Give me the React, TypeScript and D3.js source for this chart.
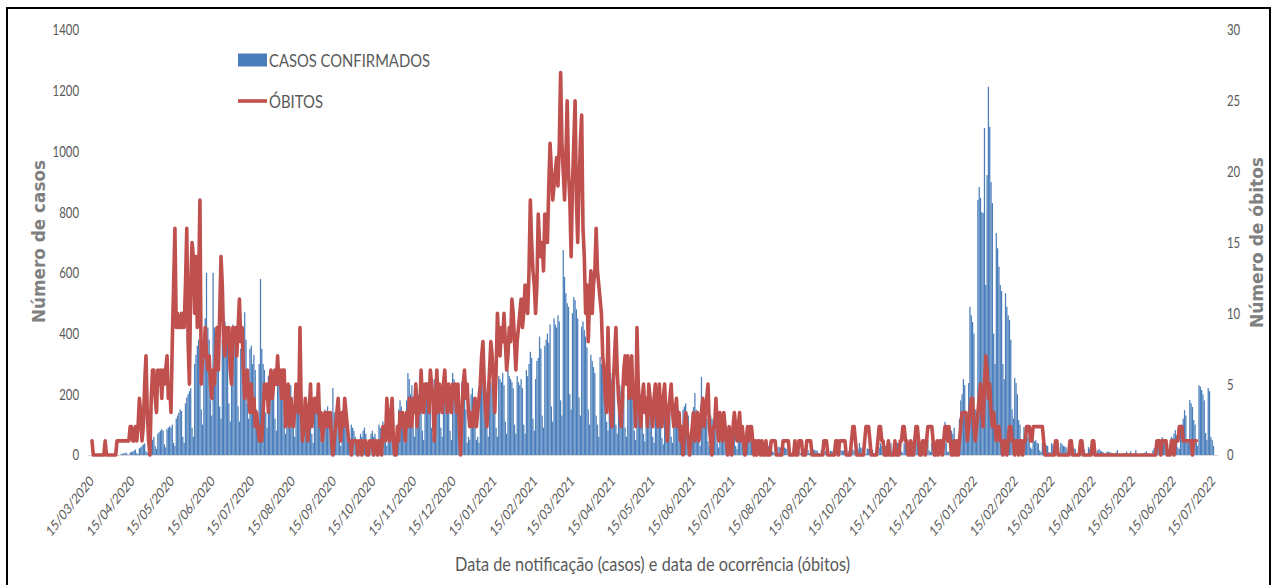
import React from "react";
import * as d3 from "d3";

// ---------- DATA (daily, starting 15/03/2020) ----------
const START_DATE = "2020-03-15";

// Casos confirmados: 15/03/2020 – 31/12/2020
const casos2020 = [
  // Mar (15-31)
  0,0,0,0,0,0,0,0,0,0,0,1,0,0,2,0,0,
  // Apr
  0,1,2,0,0,3,4,5,6,8,2,1,8,10,12,15,18,6,4,22,25,30,35,38,12,8,40,42,45,50,
  // May
  60,30,20,70,75,80,85,80,35,25,85,90,95,90,100,40,30,120,130,140,150,145,60,40,170,190,200,210,220,90,60,
  // Jun
  300,330,360,380,350,150,100,400,450,600,420,380,180,130,600,420,380,400,350,160,120,380,460,440,400,380,170,110,400,430,
  // Jul
  380,400,360,160,110,350,400,420,470,380,170,120,350,360,300,330,280,150,100,300,580,350,300,280,140,90,260,280,250,270,240,
  // Aug
  120,80,250,270,240,220,260,110,70,230,220,200,230,190,90,60,200,180,170,190,160,80,50,170,160,150,180,140,70,40,150,
  // Sep
  160,150,170,140,60,40,130,150,140,160,130,50,30,220,140,120,130,110,50,30,120,110,100,120,90,40,25,100,90,80,
  // Oct
  60,50,20,15,70,60,80,90,70,25,15,40,70,80,60,70,25,20,100,90,80,110,100,40,30,140,120,150,130,140,60,
  // Nov
  50,100,150,180,160,140,60,40,180,270,250,200,230,90,60,240,220,200,230,190,80,50,220,240,180,210,200,90,60,250,
  // Dec
  230,250,220,200,90,60,240,260,230,210,200,80,50,270,250,220,230,200,90,60,240,220,200,150,40,60,50,200,220,190,120,
];

// Casos confirmados: 2021
const casos2021 = [
  // Jan
  50,60,40,200,230,250,220,240,100,60,250,240,220,230,210,90,60,260,250,240,270,230,110,70,280,260,250,240,220,100,70,
  // Feb
  260,240,230,250,220,100,70,280,260,300,340,320,120,80,250,310,320,390,350,130,90,360,380,400,370,430,160,110,
  // Mar
  450,430,420,460,440,180,130,675,587,533,500,488,200,150,467,520,510,480,450,190,130,423,440,412,390,355,150,100,330,310,290,
  // Apr
  270,130,100,60,323,300,290,302,280,110,80,290,270,250,260,240,100,70,225,230,210,220,200,90,60,204,200,190,195,180,
  // May
  80,50,191,180,170,175,160,70,45,160,150,158,140,150,60,40,150,140,160,150,130,55,35,214,180,160,150,140,60,40,171,
  // Jun
  170,160,150,140,60,40,150,160,170,140,130,50,35,140,158,204,150,130,50,30,257,150,140,130,120,45,30,130,120,115,
  // Jul
  115,100,40,25,110,100,95,90,85,35,20,90,82,80,75,70,30,20,75,72,70,65,60,25,15,60,55,50,55,45,20,
  // Aug
  12,45,40,39,42,35,15,10,38,35,30,32,28,12,8,30,28,25,27,24,10,6,25,22,20,22,20,8,5,20,18,
  // Sep
  20,18,17,6,4,18,20,22,19,16,7,4,20,18,16,15,14,6,3,16,15,14,13,12,5,3,14,13,12,11,
  // Oct
  12,5,3,15,16,14,15,13,5,3,14,26,20,18,15,6,4,20,39,25,22,20,7,5,22,20,18,19,17,6,4,
  // Nov
  20,15,25,39,30,10,6,30,35,32,28,39,12,8,30,35,40,38,35,12,8,40,72,45,40,38,15,10,45,92,
  // Dec
  50,45,40,15,10,45,40,42,38,49,15,10,40,45,42,38,40,14,10,45,50,59,109,40,10,12,60,80,70,90,50,
];

// Casos confirmados: 01/01/2022 – 15/07/2022
const casos2022 = [
  // Jan
  30,25,120,180,200,250,230,80,60,237,488,460,438,400,150,120,840,883,847,800,797,1077,560,922,1213,1081,899,830,400,300,731,
  // Feb
  681,620,560,540,300,250,533,488,460,445,380,150,120,254,237,200,115,100,50,40,92,80,70,60,55,25,20,50,
  // Mar
  45,49,40,38,15,10,40,35,38,32,30,10,8,39,35,30,49,30,10,6,40,35,30,28,25,8,5,30,28,25,22,
  // Apr
  20,6,4,22,30,25,20,18,5,3,26,20,18,15,6,3,2,15,20,14,12,10,3,2,10,12,9,8,7,2,
  // May
  1,8,16,5,4,3,1,0,6,11,3,4,12,1,0,5,16,3,2,3,1,0,4,8,12,5,3,1,0,16,23,
  // Jun
  39,35,40,20,15,59,50,45,48,40,15,10,60,55,70,82,65,25,20,92,100,120,148,130,50,40,181,170,158,115,
  // Jul (1-15)
  100,40,30,230,225,214,200,180,72,50,220,210,59,49,30,
];

// Óbitos: 15/03/2020 – 31/12/2020
const obitos2020 = [
  // Mar (15-31)
  1,0,0,0,0,0,0,0,0,0,1,0,0,0,0,0,0,
  // Apr
  0,0,1,1,1,1,1,1,1,1,1,1,2,2,1,1,2,1,2,4,3,1,2,5,7,3,1,0,4,6,
  // May
  6,4,3,6,5,6,4,6,5,6,7,4,5,3,8,12,16,9,10,9,9,10,9,9,12,16,8,5,12,15,14,
  // Jun
  10,14,9,12,18,5,7,7,9,7,6,7,5,4,6,5,7,9,6,10,14,12,8,7,9,8,9,6,5,9,
  // Jul
  8,9,7,9,11,8,9,6,4,5,6,4,3,5,3,4,2,3,2,1,2,1,3,5,4,5,3,5,6,4,5,
  // Aug
  6,5,7,5,6,4,6,6,2,3,5,2,4,3,2,3,5,4,3,9,3,1,2,4,3,1,3,5,2,3,4,
  // Sep
  4,3,5,2,3,1,2,3,2,3,2,3,1,0,1,2,3,4,2,1,3,2,4,3,2,1,1,0,1,1,
  // Oct
  1,1,0,1,1,0,1,1,1,0,0,1,1,1,0,1,1,0,1,1,0,2,1,1,4,2,1,3,4,1,0,
  // Nov
  0,2,1,3,2,3,2,1,3,2,4,3,2,4,3,5,2,4,3,6,4,3,5,4,5,3,6,5,4,1,
  // Dec
  4,6,3,5,4,3,5,6,4,3,5,4,3,5,4,5,3,5,2,0,3,5,6,4,5,3,2,3,2,3,4,
];

// Óbitos: 2021
const obitos2021 = [
  // Jan
  2,3,4,5,7,8,5,3,2,4,6,8,7,5,3,6,10,8,7,9,8,10,8,6,7,9,8,11,10,8,6,
  // Feb
  8,9,10,11,9,10,12,11,10,13,18,15,13,12,10,12,17,15,14,15,13,17,16,15,19,22,20,18,
  // Mar
  19,20,21,19,22,27,22,20,18,21,25,20,18,14,19,22,25,18,15,19,22,24,16,14,10,12,8,11,13,10,12,
  // Apr
  13,16,13,12,11,10,7,6,4,3,9,5,3,2,5,7,9,6,4,3,2,4,6,7,5,7,4,5,7,4,
  // May
  4,2,9,5,3,2,4,5,3,4,2,5,4,3,2,4,5,3,2,5,3,2,4,5,3,1,3,4,5,3,2,
  // Jun
  3,4,2,3,1,2,0,2,3,2,1,0,1,2,3,1,2,3,1,2,3,4,2,3,4,5,2,1,0,2,
  // Jul
  2,4,2,1,3,2,1,3,2,1,0,2,1,0,2,3,2,1,2,3,1,2,1,0,1,2,1,2,2,1,0,
  // Aug
  1,0,1,1,0,1,0,0,1,0,0,0,1,1,1,1,0,0,0,0,0,1,1,1,1,1,0,0,0,0,1,
  // Sep
  0,0,1,1,1,0,0,0,1,1,1,1,0,0,0,0,0,0,0,0,0,1,1,1,0,0,0,0,0,0,
  // Oct
  1,1,0,1,1,1,1,1,0,0,0,0,1,2,2,1,0,0,0,0,0,0,1,2,2,2,1,0,0,0,0,
  // Nov
  0,1,2,2,1,1,0,0,0,1,0,0,0,0,1,0,0,0,1,1,2,2,1,1,0,0,1,0,0,1,
  // Dec
  2,2,1,0,0,1,1,0,1,2,2,2,2,1,0,0,1,0,1,1,0,1,2,2,1,2,1,0,0,1,0,
];

// Óbitos: 01/01/2022 – 02/07/2022
const obitos2022 = [
  // Jan
  1,0,1,2,3,3,3,3,1,2,3,4,4,2,1,2,3,4,5,3,2,5,7,6,4,5,3,2,3,2,1,
  // Feb
  2,2,1,1,0,1,1,0,1,2,2,1,1,0,1,1,0,1,1,0,1,1,2,2,2,1,1,2,
  // Mar
  2,2,2,2,2,2,2,1,0,0,0,0,0,0,0,0,1,1,0,0,0,0,0,0,0,0,0,1,1,0,0,
  // Apr
  0,0,0,0,1,1,0,0,0,0,0,0,0,1,1,0,0,0,0,0,0,0,0,0,0,0,0,0,0,0,
  // May
  0,0,0,0,0,0,0,0,0,0,0,0,0,0,0,0,0,0,0,0,0,0,0,0,0,0,0,0,0,0,0,
  // Jun
  0,1,1,1,0,1,1,1,1,0,0,0,1,1,0,1,1,1,2,2,2,1,1,1,1,1,1,1,0,1,
  // Jul (1-2)
  1,1,
];

const X_TICKS = [
  "15/03/2020","15/04/2020","15/05/2020","15/06/2020","15/07/2020","15/08/2020",
  "15/09/2020","15/10/2020","15/11/2020","15/12/2020","15/01/2021","15/02/2021",
  "15/03/2021","15/04/2021","15/05/2021","15/06/2021","15/07/2021","15/08/2021",
  "15/09/2021","15/10/2021","15/11/2021","15/12/2021","15/01/2022","15/02/2022",
  "15/03/2022","15/04/2022","15/05/2022","15/06/2022","15/07/2022",
];
const LEFT_TICKS = [0, 200, 400, 600, 800, 1000, 1200, 1400];
const RIGHT_TICKS = [0, 5, 10, 15, 20, 25, 30];

const SERIES_CASOS = "CASOS CONFIRMADOS";
const SERIES_OBITOS = "ÓBITOS";
const TITLE_X = "Data de notificação (casos) e data de ocorrência (óbitos)";
const TITLE_YL = "Número de casos";
const TITLE_YR = "Número de óbitos";

// ---------- CHART ----------
const W = 1276;
const H = 585;
const FONT = "Lato, 'Open Sans', 'DejaVu Sans', sans-serif";
const BLUE = "#4a7ebb";
const RED = "#c0504d";
const TICK_COLOR = "#595959";

type Pt = { date: Date; v: number };

export default function App() {
  const start = d3.utcParse("%Y-%m-%d")(START_DATE)!;
  const toSeries = (vals: number[]): Pt[] =>
    vals.map((v, i) => ({ date: d3.utcDay.offset(start, i), v }));
  const casos = toSeries([...casos2020, ...casos2021, ...casos2022]);
  const obitos = toSeries([...obitos2020, ...obitos2021, ...obitos2022]);

  const parseLbl = d3.utcParse("%d/%m/%Y");
  const tickDates = X_TICKS.map((t) => parseLbl(t)!);

  const x = d3
    .scaleUtc()
    .domain([tickDates[0], tickDates[tickDates.length - 1]])
    .range([92, 1213.5]);
  const yL = d3.scaleLinear().domain([0, 1400]).range([455, 30]);
  const yR = d3.scaleLinear().domain([0, 30]).range([455, 30]);

  const barW = 1.25;
  const line = d3
    .line<Pt>()
    .x((d) => x(d.date))
    .y((d) => yR(d.v));

  return (
    <svg
      width={W}
      height={H}
      viewBox={`0 0 ${W} ${H}`}
      style={{ position: "absolute", left: 0, top: 0, background: "#fff", display: "block" }}
    >
      <rect x={0} y={0} width={W} height={H} fill="#fff" />
      {/* outer frame */}
      <rect x={7} y={8} width={1263} height={620} fill="none" stroke="#000" strokeWidth={2} />

      {/* baseline */}
      <line x1={88} x2={1218} y1={455.5} y2={455.5} stroke="#d9d9d9" strokeWidth={1} />

      {/* bars */}
      <g fill={BLUE}>
        {casos.map((d, i) =>
          d.v > 0 ? (
            <rect
              key={i}
              x={x(d.date) - barW / 2}
              y={yL(d.v)}
              width={barW}
              height={yL(0) - yL(d.v)}
            />
          ) : null
        )}
      </g>

      {/* deaths line */}
      <path
        d={line(obitos) || ""}
        fill="none"
        stroke={RED}
        strokeWidth={3.6}
        strokeLinejoin="round"
        strokeLinecap="round"
      />

      {/* left & right ticks */}
      <g fontFamily={FONT} fontSize={15} fill={TICK_COLOR}>
        {LEFT_TICKS.map((t) => (
          <text
            key={t}
            x={79}
            y={yL(t)}
            dy="0.36em"
            textAnchor="end"
            textLength={6.6 * String(t).length}
            lengthAdjust="spacingAndGlyphs"
          >
            {t}
          </text>
        ))}
        {RIGHT_TICKS.map((t) => (
          <text
            key={"r" + t}
            x={1227}
            y={yR(t)}
            dy="0.36em"
            textAnchor="start"
            textLength={6.6 * String(t).length}
            lengthAdjust="spacingAndGlyphs"
          >
            {t}
          </text>
        ))}
      </g>

      {/* x tick labels */}
      <g fontFamily={FONT} fontSize={14.5} fill={TICK_COLOR}>
        {tickDates.map((d, i) => (
          <text
            key={i}
            transform={`translate(${x(d) + 2.5},482) scale(0.79,1) rotate(-45)`}
            textAnchor="end"
            textLength={78}
            lengthAdjust="spacingAndGlyphs"
          >
            {X_TICKS[i]}
          </text>
        ))}
      </g>

      {/* axis titles */}
      <text
        x={455}
        y={571}
        fontFamily={FONT}
        fontSize={19}
        fill={TICK_COLOR}
        textLength={395}
        lengthAdjust="spacingAndGlyphs"
      >
        {TITLE_X}
      </text>
      <text
        transform={`translate(45,241.5) rotate(-90)`}
        textAnchor="middle"
        fontFamily="'DejaVu Sans', sans-serif"
        fontWeight="bold"
        fontSize={17}
        fill="#808080"
        textLength={163}
        lengthAdjust="spacingAndGlyphs"
      >
        {TITLE_YL}
      </text>
      <text
        transform={`translate(1263,242.5) rotate(-90)`}
        textAnchor="middle"
        fontFamily="'DejaVu Sans', sans-serif"
        fontWeight="bold"
        fontSize={17}
        fill="#808080"
        textLength={171}
        lengthAdjust="spacingAndGlyphs"
      >
        {TITLE_YR}
      </text>

      {/* legend */}
      <rect x={238} y={53.5} width={29} height={13} fill={BLUE} />
      <text
        x={269}
        y={66.7}
        fontFamily={FONT}
        fontSize={18}
        fill={TICK_COLOR}
        textLength={161}
        lengthAdjust="spacingAndGlyphs"
      >
        {SERIES_CASOS}
      </text>
      <line x1={238} x2={267} y1={101} y2={101} stroke={RED} strokeWidth={3.6} />
      <text
        x={269}
        y={108}
        fontFamily={FONT}
        fontSize={18}
        fill={TICK_COLOR}
        textLength={54}
        lengthAdjust="spacingAndGlyphs"
      >
        {SERIES_OBITOS}
      </text>
    </svg>
  );
}
